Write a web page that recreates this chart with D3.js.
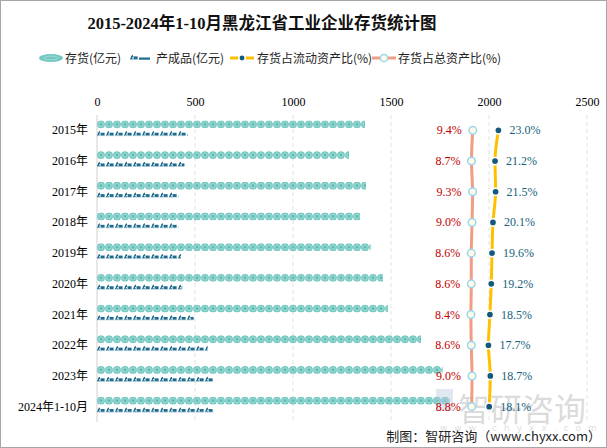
<!DOCTYPE html>
<html><head><meta charset="utf-8">
<script src="https://cdn.jsdelivr.net/npm/d3@7"></script>
<style>body{margin:0;background:#fff}svg{display:block}</style>
</head><body>
<svg id="c" width="607" height="448"></svg>
<script>
const categories = ["2015年","2016年","2017年","2018年","2019年","2020年","2021年","2022年","2023年","2024年1-10月"];
const inventory = [1367, 1286, 1372, 1342, 1396, 1459, 1485, 1653, 1763, 1800];
const finishedGoods = [463, 446, 415, 415, 429, 435, 493, 565, 594, 597];
const ratioCurrent = [23.0, 21.2, 21.5, 20.1, 19.6, 19.2, 18.5, 17.7, 18.7, 18.1];
const ratioTotal = [9.4, 8.7, 9.3, 9.0, 8.6, 8.6, 8.4, 8.6, 9.0, 8.8];
const xTicks = [0, 500, 1000, 1500, 2000, 2500];
const seriesNames = ["存货(亿元)", "产成品(亿元)", "存货占流动资产比(%)", "存货占总资产比(%)"];

const svg = d3.select("#c");
const L = 97, R = 587, T = 115, B = 422;
const x = d3.scaleLinear().domain([0, 2500]).range([L, R]);
const xp = d3.scaleLinear().domain([-190, 70]).range([L, R]);
const y = d3.scaleBand().domain(categories).range([T, B]);
const cy = c => y(c) + y.bandwidth() / 2;
const serif = "'Liberation Serif','Noto Sans CJK SC',serif";
const cjk = "'Noto Sans CJK SC','Liberation Sans',sans-serif";

// border
svg.append("rect").attr("x", 0.5).attr("y", 0.5).attr("width", 606).attr("height", 447)
  .attr("fill", "#fff").attr("stroke", "#a6a6a6");

// title
svg.append("text").attr("x", 262).attr("y", 29).attr("text-anchor", "middle")
  .attr("font-family", serif).attr("font-weight", "bold").attr("font-size", 16.5)
  .attr("fill", "#111").text("2015-2024年1-10月黑龙江省工业企业存货统计图");

// grid
svg.append("g").selectAll("line").data(xTicks.slice(1)).join("line")
  .attr("x1", d => x(d)).attr("x2", d => x(d)).attr("y1", T).attr("y2", B)
  .attr("stroke", "#e3e3e3").attr("stroke-dasharray", "4,3");
svg.append("line").attr("x1", L).attr("x2", L).attr("y1", T).attr("y2", B).attr("stroke", "#d0d0d0");

// top axis labels
const ax = svg.append("g").attr("transform", `translate(0,${T})`)
  .call(d3.axisTop(x).tickValues(xTicks).tickFormat(d3.format("d")).tickSize(0).tickPadding(9));
ax.select(".domain").remove();
ax.selectAll("text").attr("font-family", serif).attr("font-size", 12).attr("fill", "#000");

// y labels
svg.append("g").selectAll("text").data(categories).join("text")
  .attr("x", 88).attr("y", d => cy(d) + 4).attr("text-anchor", "end")
  .attr("font-family", serif).attr("font-size", 12).attr("fill", "#000").text(d => d);

// defs for symbols
const defs = svg.append("defs");
const coin = defs.append("g").attr("id", "coin");
coin.append("circle").attr("cx", 4).attr("cy", 0).attr("r", 3.9).attr("fill", "#74c8c1");
coin.append("circle").attr("cx", 4).attr("cy", 0).attr("r", 2.2).attr("fill", "none").attr("stroke", "#a9e0da").attr("stroke-width", 0.9);
coin.append("path").attr("d", "M3,-1 Q4.6,-1.2 4.6,0.3 Q4.2,1.3 3.4,0.8").attr("fill", "none").attr("stroke", "#52ada5").attr("stroke-width", 0.8);
const fm = defs.append("g").attr("id", "fm");
fm.append("path").attr("d", "M0.5,2.2 L2.6,-2 M1,-0.4 L3.2,-0.4 M1.2,0.2 L2.4,2.2").attr("fill", "none").attr("stroke", "#1d6a8d").attr("stroke-width", 1.1);
fm.append("rect").attr("x", 3.6).attr("y", -0.6).attr("width", 4).attr("height", 2.8).attr("fill", "#1d6a8d");
fm.append("line").attr("x1", 0).attr("x2", 8.5).attr("y1", 2.6).attr("y2", 2.6).attr("stroke", "#7fb3c9").attr("stroke-width", 0.6);

// inventory pictorial bars
const invRows = inventory.map((v, i) => ({ c: categories[i], v, i }));
invRows.forEach(d => {
  defs.append("clipPath").attr("id", "ci" + d.i).append("rect")
    .attr("x", x(0)).attr("y", cy(d.c) - 10).attr("width", x(d.v) - x(0)).attr("height", 8);
  const n = Math.ceil((x(d.v) - x(0)) / 8);
  svg.append("g").attr("clip-path", `url(#ci${d.i})`).selectAll("use").data(d3.range(n)).join("use")
    .attr("href", "#coin").attr("x", k => x(0) + k * 8).attr("y", cy(d.c) - 6);
});
// finished goods pictorial bars
const fgRows = finishedGoods.map((v, i) => ({ c: categories[i], v, i }));
fgRows.forEach(d => {
  defs.append("clipPath").attr("id", "cf" + d.i).append("rect")
    .attr("x", x(0)).attr("y", cy(d.c) - 1).attr("width", x(d.v) - x(0)).attr("height", 7);
  const n = Math.ceil((x(d.v) - x(0)) / 9);
  svg.append("g").attr("clip-path", `url(#cf${d.i})`).selectAll("use").data(d3.range(n)).join("use")
    .attr("href", "#fm").attr("x", k => x(0) + k * 9).attr("y", cy(d.c) + 3);
});

// watermark
const wm = svg.append("g").attr("opacity", 0.4);
wm.append("rect").attr("x", 436).attr("y", 389).attr("width", 17).attr("height", 22).attr("fill", "#b9c6dd");
wm.append("text").attr("x", 458).attr("y", 421).attr("font-family", cjk).attr("font-size", 32)
  .attr("fill", "#a8a8a8").text("智研咨询");
wm.append("text").attr("x", 440).attr("y", 431).attr("font-family", "'DejaVu Sans',sans-serif").attr("font-size", 9)
  .attr("fill", "#b0b0b0").attr("letter-spacing", 7).text("www.chyxx.com");

// lines
const curve = d3.curveMonotoneY;
const lineTotal = d3.line().x(d => xp(d.v)).y(d => cy(d.c)).curve(curve);
const lineCur = d3.line().x(d => xp(d.v)).y(d => cy(d.c)).curve(curve);
const totRows = ratioTotal.map((v, i) => ({ c: categories[i], v }));
const curRows = ratioCurrent.map((v, i) => ({ c: categories[i], v }));
svg.append("path").datum(totRows).attr("d", lineTotal).attr("fill", "none").attr("stroke", "#f29c86").attr("stroke-width", 3);
svg.append("path").datum(curRows).attr("d", lineCur).attr("fill", "none").attr("stroke", "#ffc000").attr("stroke-width", 3);
svg.append("g").selectAll("circle").data(totRows).join("circle")
  .attr("cx", d => xp(d.v)).attr("cy", d => cy(d.c)).attr("r", 3.8)
  .attr("fill", "#fdfbe6").attr("stroke", "#9ad6ee").attr("stroke-width", 1.5);
svg.append("g").selectAll("circle").data(curRows).join("circle")
  .attr("cx", d => xp(d.v)).attr("cy", d => cy(d.c)).attr("r", 3.6)
  .attr("fill", "#13597c").attr("stroke", "#fff").attr("stroke-width", 1.5);

// labels
svg.append("g").selectAll("text").data(totRows).join("text")
  .attr("x", d => xp(d.v) - 11).attr("y", d => cy(d.c) + 4).attr("text-anchor", "end")
  .attr("font-family", serif).attr("font-size", 12).attr("fill", "#c00000").text(d => d.v.toFixed(1) + "%");
svg.append("g").selectAll("text").data(curRows).join("text")
  .attr("x", d => xp(d.v) + 11).attr("y", d => cy(d.c) + 4)
  .attr("font-family", serif).attr("font-size", 12).attr("fill", "#175f7d").text(d => d.v.toFixed(1) + "%");

// legend
const lg = svg.append("g");
const lx = [39, 130, 230, 372];
const tx = [65, 156, 257, 398];
const ly = 58;
lg.append("ellipse").attr("cx", lx[0] + 12).attr("cy", ly).attr("rx", 12).attr("ry", 4).attr("fill", "#74c8c1");
lg.append("ellipse").attr("cx", lx[0] + 12).attr("cy", ly).attr("rx", 7).attr("ry", 1.8).attr("fill", "none").attr("stroke", "#a9e0da").attr("stroke-width", 0.8);
lg.append("use").attr("href", "#fm").attr("x", lx[1]).attr("y", ly - 1);
lg.append("rect").attr("x", lx[1] + 9).attr("y", ly - 0.5).attr("width", 11).attr("height", 2.2).attr("fill", "#1d6a8d");
lg.append("line").attr("x1", lx[2]).attr("x2", lx[2] + 24).attr("y1", ly).attr("y2", ly).attr("stroke", "#ffc000").attr("stroke-width", 3);
lg.append("circle").attr("cx", lx[2] + 12).attr("cy", ly).attr("r", 3.2).attr("fill", "#13597c").attr("stroke", "#fff").attr("stroke-width", 1.5);
lg.append("line").attr("x1", lx[3]).attr("x2", lx[3] + 24).attr("y1", ly).attr("y2", ly).attr("stroke", "#f29c86").attr("stroke-width", 3);
lg.append("circle").attr("cx", lx[3] + 12).attr("cy", ly).attr("r", 3.6).attr("fill", "#fdfbe6").attr("stroke", "#9ad6ee").attr("stroke-width", 1.5);
lg.selectAll("text.lt").data(seriesNames).join("text").attr("class", "lt")
  .attr("x", (d, i) => tx[i]).attr("y", ly + 4.5)
  .attr("font-family", cjk).attr("font-size", 12).attr("fill", "#222").text(d => d);

// source
svg.append("text").attr("x", 601).attr("y", 441).attr("text-anchor", "end")
  .attr("font-family", cjk).attr("font-size", 13).attr("fill", "#222").text("制图：智研咨询（www.chyxx.com）");
</script>
</body></html>
